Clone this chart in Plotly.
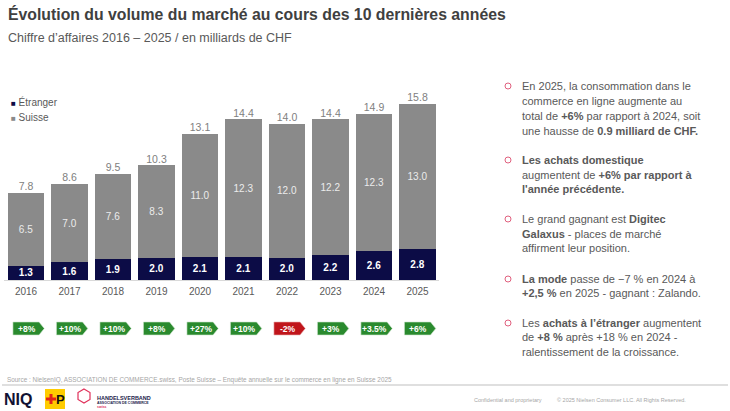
import plotly.graph_objects as go

# ---------------- data ----------------
years = [2016, 2017, 2018, 2019, 2020, 2021, 2022, 2023, 2024, 2025]
etranger = [1.3, 1.6, 1.9, 2.0, 2.1, 2.1, 2.0, 2.2, 2.6, 2.8]
suisse = [6.5, 7.0, 7.6, 8.3, 11.0, 12.3, 12.0, 12.2, 12.3, 13.0]
totals = [7.8, 8.6, 9.5, 10.3, 13.1, 14.4, 14.0, 14.4, 14.9, 15.8]
growth = ["+8%", "+10%", "+10%", "+8%", "+27%", "+10%", "-2%", "+3%", "+3.5%", "+6%"]

W, H = 730, 411
FONT = "Liberation Sans, Arial, sans-serif"


def px(x):
    return x / W


def py(y):
    return 1 - y / H


NAVY = "#0c0c46"
GREY = "#8a8a8a"

fig = go.Figure()
fig.add_trace(go.Bar(
    x=years, y=etranger, name="Étranger", marker=dict(color=NAVY, line=dict(width=0)),
    texttemplate="<b>%{y:.1f}</b>", textposition="inside", insidetextanchor="middle",
    textangle=0, textfont=dict(color="white", size=10, family=FONT), showlegend=False,
))
fig.add_trace(go.Bar(
    x=years, y=suisse, name="Suisse", marker=dict(color=GREY, line=dict(width=0)),
    texttemplate="%{y:.1f}", textposition="inside", insidetextanchor="middle",
    textangle=0, textfont=dict(color="#ececec", size=10, family=FONT), showlegend=False,
))
fig.add_trace(go.Scatter(
    x=years, y=totals, mode="text", text=[f"{t:.1f}" for t in totals],
    textposition="top center", textfont=dict(color="#808080", size=10.5, family=FONT),
    showlegend=False, cliponaxis=False, hoverinfo="skip",
))

shapes = []
annotations = []


def ann(x, y, text, size, color, anchor="left", **kw):
    annotations.append(dict(x=px(x), y=py(y), xref="paper", yref="paper", xanchor=anchor,
                            yanchor="middle", text=text, showarrow=False,
                            font=dict(size=size, color=color, family=FONT), **kw))


# growth badges
b_y0, b_y1 = py(335), py(322)
b_ym = (b_y0 + b_y1) / 2
for yr, g in zip(years, growth):
    neg = g.startswith("-")
    col = "#c0151b" if neg else "#2a8a2e"
    l, r, tip = yr - 0.30, yr + 0.30, yr + 0.42
    path = f"M {l},{b_y0} L {r},{b_y0} L {tip},{b_ym} L {r},{b_y1} L {l},{b_y1} Z"
    shapes.append(dict(type="path", path=path, xref="x", yref="paper",
                       fillcolor=col, line=dict(color="#e8b0b0" if neg else "#cfe5cf", width=0.6)))
    annotations.append(dict(x=yr + 0.02, y=b_ym, xref="x", yref="paper", text=f"<b>{g}</b>",
                            showarrow=False, font=dict(color="white", size=8.5, family=FONT),
                            xanchor="center", yanchor="middle"))

# title & subtitle
ann(6, 14, "<b>Évolution du volume du marché au cours des 10 dernières années</b>", 15.8, "#404040")
ann(6, 38, "Chiffre d’affaires 2016 – 2025 / en milliards de CHF", 12.5, "#595959")

# legend
for label, col, yy in [("Étranger", NAVY, 102), ("Suisse", GREY, 117)]:
    ann(9, yy, f"<span style='color:{col}; font-size:8px'>■</span> {label}", 10, "#595959")

# right panel bullets
bullets = [
    ([86, 101, 116, 131], ["En 2025, la consommation dans le",
                           "commerce en ligne augmente au",
                           "total de <b>+6%</b> par rapport à 2024, soit",
                           "une hausse de <b>0.9 milliard de CHF.</b>"]),
    ([160, 175, 189], ["<b>Les achats domestique</b>",
                       "augmentent de <b>+6% par rapport à</b>",
                       "<b>l'année précédente.</b>"]),
    ([219, 234, 248], ["Le grand gagnant est <b>Digitec</b>",
                       "<b>Galaxus</b> - places de marché",
                       "affirment leur position."]),
    ([279, 293], ["<b>La mode</b> passe de −7 % en 2024 à",
                  "<b>+2,5 %</b> en 2025 - gagnant : Zalando."]),
    ([323, 337, 352], ["Les <b>achats à l’étranger</b> augmentent",
                       "de <b>+8 %</b> après +18 % en 2024 -",
                       "ralentissement de la croissance."]),
]
for ys, lines in bullets:
    shapes.append(dict(type="circle", xref="paper", yref="paper",
                       x0=px(505), x1=px(511), y0=py(ys[0] + 3), y1=py(ys[0] - 3),
                       line=dict(color="#e0607e", width=1), fillcolor="rgba(0,0,0,0)"))
    for yy, t in zip(ys, lines):
        ann(520, yy, t, 11, "#595959")

# footer
ann(5, 380, "Source : NielsenIQ, ASSOCIATION DE COMMERCE.swiss, Poste Suisse – Enquête annuelle sur le commerce en ligne en Suisse 2025",
    6.4, "#a6a6a6")
shapes.append(dict(type="line", xref="paper", yref="paper", x0=px(2), x1=px(728), y0=py(385), y1=py(385),
                   line=dict(color="#bfbfbf", width=1)))
ann(2, 399, "<b>NIQ</b>", 16, "#111133")
# Post logo
shapes.append(dict(type="rect", xref="paper", yref="paper", x0=px(45), x1=px(65), y0=py(409), y1=py(389),
                   fillcolor="#ffcc00", line=dict(width=0)))
shapes.append(dict(type="rect", xref="paper", yref="paper", x0=px(49.5), x1=px(52.5), y0=py(404), y1=py(394),
                   fillcolor="#e2231a", line=dict(width=0)))
shapes.append(dict(type="rect", xref="paper", yref="paper", x0=px(46), x1=px(56), y0=py(400.5), y1=py(397.5),
                   fillcolor="#e2231a", line=dict(width=0)))
ann(60, 399, "<b>P</b>", 13, "#111111", anchor="center")
# Handelsverband logo
shapes.append(dict(type="path", xref="paper", yref="paper",
                   path=f"M {px(84)},{py(389)} L {px(90)},{py(392.5)} L {px(90)},{py(399.5)} L {px(84)},{py(403)} "
                        f"L {px(78)},{py(399.5)} L {px(78)},{py(392.5)} Z",
                   line=dict(color="#e0305a", width=1.2), fillcolor="rgba(0,0,0,0)"))
ann(95, 398, "<b>HANDELSVERBAND</b>", 5.5, "#1a1a4a")
ann(95, 403, "<b>ASSOCIATION DE COMMERCE</b>", 3.5, "#1a1a4a")
ann(95, 407, "<b>swiss</b>", 3.5, "#e0305a")
ann(472, 400, "Confidential and proprietary", 5.5, "#a6a6a6")
ann(555, 400, "© 2025 Nielsen Consumer LLC. All Rights Reserved.", 5.5, "#a6a6a6")

fig.update_layout(
    width=W, height=H, margin=dict(l=0, r=0, t=0, b=0),
    paper_bgcolor="white", plot_bgcolor="white",
    barmode="stack", bargap=0.17,
    font=dict(family=FONT),
    xaxis=dict(domain=[px(4.25), px(439.25)], range=[2015.5, 2025.5], tickvals=years,
               ticktext=[str(y) for y in years], tickfont=dict(size=10, color="#595959", family=FONT),
               showline=True, linecolor="#d9d9d9", linewidth=1, ticks="", showgrid=False, zeroline=False,
               ticklabelstandoff=2, fixedrange=True),
    yaxis=dict(domain=[py(280), py(96)], range=[0, 16.5], visible=False, fixedrange=True),
    uniformtext=dict(minsize=8, mode="show"),
    shapes=shapes, annotations=annotations,
)

fig.write_html("out.html", config={"displayModeBar": False},
               post_script="document.body.style.margin='0';document.body.style.overflow='hidden';")
